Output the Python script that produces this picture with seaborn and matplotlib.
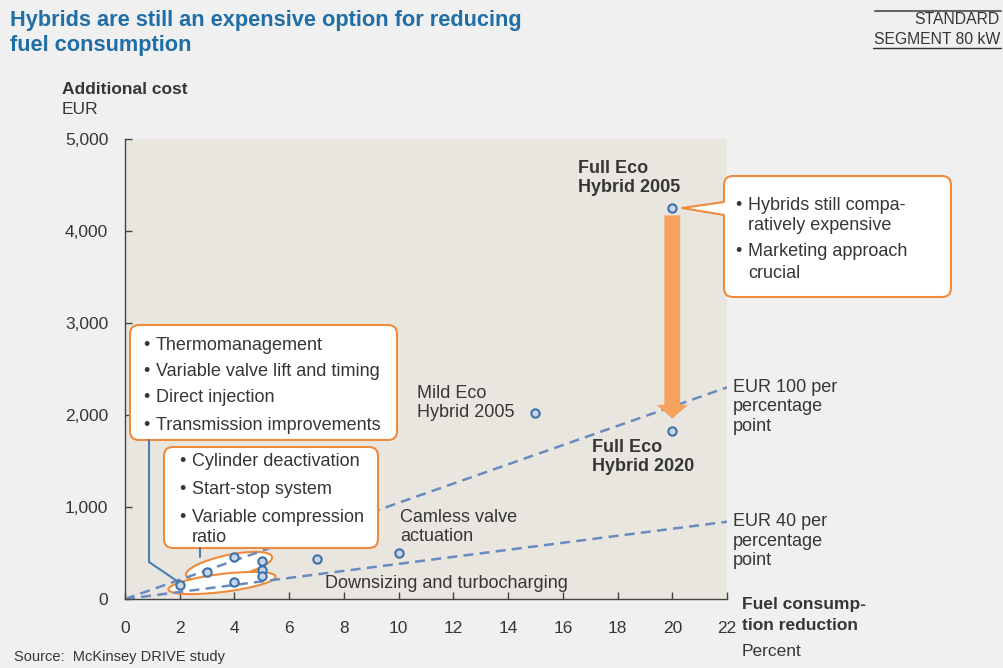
import matplotlib
matplotlib.use("Agg")
import matplotlib.pyplot as plt
import seaborn as sns
from matplotlib.patches import FancyBboxPatch, Ellipse, Polygon
from matplotlib.lines import Line2D
from matplotlib.transforms import Affine2D

W, H = 1004, 668

# ---- data ----
tech_gain = [2, 3, 4, 4, 5, 5, 5, 7, 10]
tech_cost = [150, 290, 460, 180, 410, 320, 250, 440, 500]
hybrid_names = ["Mild Eco Hybrid 2005", "Full Eco Hybrid 2005", "Full Eco Hybrid 2020"]
hybrid_gain = [15, 20, 20]
hybrid_cost = [2020, 4250, 1830]
rate_x = [0, 22]
rate_100 = [0, 2300]
rate_40 = [0, 840]
x_ticks = list(range(0, 23, 2))
y_ticks = [0, 1000, 2000, 3000, 4000, 5000]

BLUE_TITLE = "#1f6ea6"
TXT = "#363636"
ORANGE = "#f08a3c"
ARROW = "#f6a25f"
DASH = "#6a8bbf"
PT_FACE = "#c9d6e8"
PT_EDGE = "#3d72a8"

sns.set_theme(style="ticks")
plt.rcParams["font.family"] = ["Liberation Sans", "DejaVu Sans"]
NARROW = ["Liberation Sans Narrow", "Liberation Sans", "DejaVu Sans"]

fig = plt.figure(figsize=(W / 100, H / 100), dpi=100, facecolor="#f0f0f0")
ax = fig.add_axes([125 / W, 1 - 599 / H, 602 / W, 460 / H])
ax.set_facecolor("#e9e6df")
# pixel coordinates (origin top-left) for annotations
px = Affine2D().scale(1 / W, -1 / H).translate(0, 1) + fig.transFigure

# rate lines
sns.lineplot(x=rate_x, y=rate_100, ax=ax, color=DASH, lw=1.8,
             linestyle=(0, (4, 2.5)), zorder=2)
sns.lineplot(x=rate_x, y=rate_40, ax=ax, color=DASH, lw=1.8,
             linestyle=(0, (4, 2.5)), zorder=2)

# ellipses around technology groups
ax.add_patch(Ellipse((229, 566), 88, 22, angle=-12, transform=px,
                     facecolor="white", edgecolor=ORANGE, lw=1.5, zorder=1))
ax.add_patch(Ellipse((222, 583), 108, 18, angle=-7, transform=px,
                     facecolor="white", edgecolor=ORANGE, lw=1.5, zorder=1))

# arrow from 2005 to 2020 full hybrid
ax.arrow(hybrid_gain[1], hybrid_cost[1] - 80, 0,
         (hybrid_cost[2] + 130) - (hybrid_cost[1] - 80),
         width=0.58, head_width=1.15, head_length=150,
         length_includes_head=True, color=ARROW, lw=0, zorder=4)

sns.scatterplot(x=tech_gain, y=tech_cost, ax=ax, s=36, color=PT_FACE,
                edgecolor=PT_EDGE, linewidth=1.5, zorder=5)
sns.scatterplot(x=hybrid_gain, y=hybrid_cost, ax=ax, s=36, color=PT_FACE,
                edgecolor=PT_EDGE, linewidth=1.5, zorder=5)

ax.set_xlim(0, 22)
ax.set_ylim(0, 5000)
ax.set_xticks(x_ticks)
ax.set_yticks(y_ticks)
ax.set_yticklabels([f"{v:,}" for v in y_ticks])
ax.set_xlabel("")
ax.set_ylabel("")
for s in ["top", "right"]:
    ax.spines[s].set_visible(False)
for s in ["left", "bottom"]:
    ax.spines[s].set_color("#444444")
    ax.spines[s].set_linewidth(1)
ax.tick_params(axis="both", direction="in", length=5, width=1, color="#444444",
               labelsize=12.5, labelcolor=TXT)
ax.tick_params(axis="x", pad=16)
ax.tick_params(axis="y", pad=12)

# ---- texts ----
def ptext(x, y, s, **kw):
    kw.setdefault("color", TXT)
    kw.setdefault("fontsize", 13)
    kw.setdefault("va", "center")
    kw.setdefault("ha", "left")
    fig.text(x / W, 1 - y / H, s, **kw)

ptext(10, 33, "Hybrids are still an expensive option for reducing\nfuel consumption",
      fontsize=15.7, fontweight="bold", color=BLUE_TITLE, family=NARROW,
      linespacing=1.2)
ptext(1000, 20, "STANDARD", ha="right", fontsize=11.3, family=NARROW)
ptext(1000, 39, "SEGMENT 80 kW", ha="right", fontsize=11.3, family=NARROW)
fig.add_artist(Line2D([875, 1001], [11, 11], transform=px, color="#666666", lw=1.5))
fig.add_artist(Line2D([873, 1001], [48, 48], transform=px, color="#333333", lw=1))

ptext(62, 90, "Additional cost", fontsize=12.5, fontweight="bold")
ptext(62, 110, "EUR", fontsize=12.5)
ptext(742, 604, "Fuel consump-", fontsize=12.5, fontweight="bold")
ptext(742, 625, "tion reduction", fontsize=12.5, fontweight="bold")
ptext(742, 651, "Percent", fontsize=12.5)
ptext(14, 657, "Source:  McKinsey DRIVE study", fontsize=10.5)

ptext(733, 407, "EUR 100 per\npercentage\npoint", linespacing=1.22)
ptext(733, 541, "EUR 40 per\npercentage\npoint", linespacing=1.22)

ptext(417, 403, "Mild Eco\nHybrid 2005", linespacing=1.18)
ptext(578, 178, "Full Eco\nHybrid 2005", fontweight="bold", linespacing=1.18)
ptext(592, 457, "Full Eco\nHybrid 2020", fontweight="bold", linespacing=1.18)
ptext(400, 527, "Camless valve\nactuation", linespacing=1.18)
ptext(325, 583, "Downsizing and turbocharging")

# ---- callout boxes ----
def box(x0, y0, x1, y1):
    p = FancyBboxPatch((x0, y0), x1 - x0, y1 - y0,
                       boxstyle="round,pad=0,rounding_size=9", transform=px,
                       facecolor="white", edgecolor=ORANGE, lw=1.5, zorder=2)
    fig.add_artist(p)

def bullets(bx, tx, rows):
    for bullet, s, y in rows:
        if bullet:
            ptext(bx, y, "\u2022", zorder=3)
        ptext(tx, y, s, zorder=3)

box(130, 325, 397, 440)
bullets(143, 156, [(True, "Thermomanagement", 345),
                   (True, "Variable valve lift and timing", 372),
                   (True, "Direct injection", 398),
                   (True, "Transmission improvements", 425)])

box(164, 447, 378, 548)
bullets(179, 192, [(True, "Cylinder deactivation", 462),
                   (True, "Start-stop system", 490),
                   (True, "Variable compression", 517),
                   (False, "ratio", 537)])

box(724, 176, 951, 297)
fig.add_artist(Polygon([(727, 201.5), (682, 208), (727, 215.5)], closed=True,
                       transform=px, facecolor="white", edgecolor="none", zorder=2.5))
fig.add_artist(Line2D([724, 682, 724], [202, 208, 215], transform=px,
                      color=ORANGE, lw=1.5, zorder=2.6))
bullets(735, 748, [(True, "Hybrids still compa-", 205),
                   (False, "ratively expensive", 226),
                   (True, "Marketing approach", 252),
                   (False, "crucial", 273)])

# connector lines from boxes to points
fig.add_artist(Line2D([149, 149, 177], [440, 562, 581], transform=px,
                      color="#4a7fb0", lw=1.5, zorder=2))
fig.add_artist(Line2D([200, 200], [548, 557], transform=px,
                      color="#4a7fb0", lw=1.5, zorder=2))

fig.savefig("out.png", dpi=100, facecolor=fig.get_facecolor())
